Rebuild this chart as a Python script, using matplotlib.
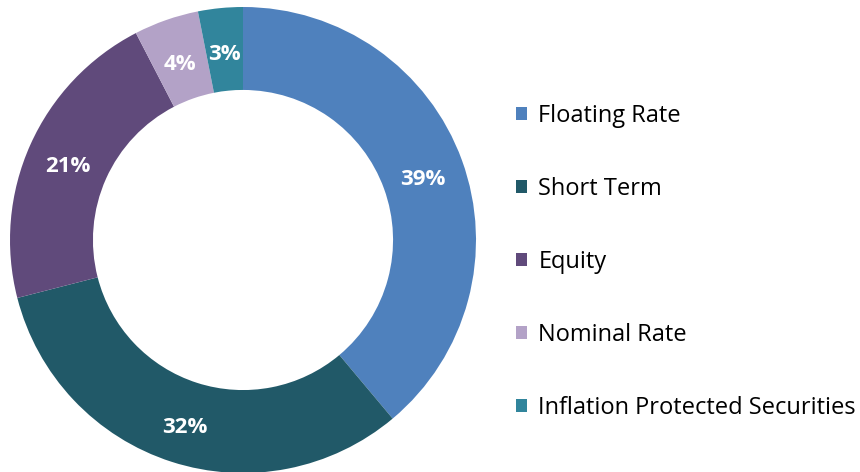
import matplotlib
matplotlib.use("Agg")
import matplotlib.pyplot as plt
from matplotlib.patches import Patch
import numpy as np

categories = ["Floating Rate", "Short Term", "Equity", "Nominal Rate", "Inflation Protected Securities"]
values = [38.9, 32.1, 21.4, 4.5, 3.1]
labels = ["39%", "32%", "21%", "4%", "3%"]
colors = ["#4F81BD", "#215968", "#604A7B", "#B3A2C7", "#31859C"]

plt.rcParams['font.family'] = ['Open Sans', 'DejaVu Sans']

fig = plt.figure(figsize=(8.6, 4.72), dpi=100)
W, H = 860, 472
cx, cy, R = 243, 240, 233
ax = fig.add_axes([(cx - R) / W, (H - cy - R) / H, 2 * R / W, 2 * R / H])
wedges, _ = ax.pie(values, colors=colors, startangle=90, counterclock=False,
                   radius=1.0, wedgeprops=dict(width=0.356, edgecolor='none'))
cum = np.cumsum([0] + values[:-1])
for v, c, lab in zip(values, cum, labels):
    ang = np.deg2rad(90 - (c + v / 2) / 100 * 360)
    r = 0.822
    ax.text(r * np.cos(ang), r * np.sin(ang) - 0.022, lab, ha='center', va='center',
            color='white', fontsize=16, fontweight='bold')
ax.set_xlim(-1, 1)
ax.set_ylim(-1, 1)
ax.set_aspect('equal')
ax.axis('off')

handles = [Patch(facecolor=c, edgecolor='none') for c in colors]
fig.legend(handles, categories, loc='upper left', bbox_to_anchor=(516 / W, 1 - 104 / H),
           frameon=False, fontsize=17, handlelength=0.45, handleheight=0.45,
           handletextpad=0.5, labelspacing=2.075, borderaxespad=0, borderpad=0)

fig.savefig("out.png", dpi=100)
